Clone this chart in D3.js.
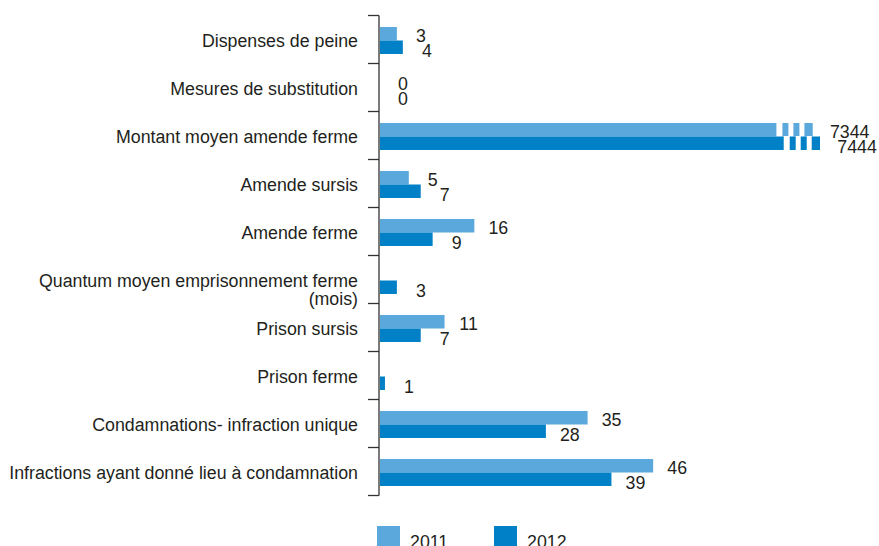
<!DOCTYPE html>
<html>
<head>
<meta charset="utf-8">
<script src="https://cdn.jsdelivr.net/npm/d3@7"></script>
<style>
  body { margin: 0; background: #fff; }
  svg text { font-family: "Liberation Sans", Arial, sans-serif; fill: #231f20; }
</style>
</head>
<body>
<svg id="chart" width="879" height="546"></svg>
<script>
// Categories, top to bottom
const categories = [
  "Dispenses de peine",
  "Mesures de substitution",
  "Montant moyen amende ferme",
  "Amende sursis",
  "Amende ferme",
  "Quantum moyen emprisonnement ferme\n(mois)",
  "Prison sursis",
  "Prison ferme",
  "Condamnations- infraction unique",
  "Infractions ayant donné lieu à condamnation"
];
const seriesNames = ["2011", "2012"];
const values2011 = [3, 0, 7344, 5, 16, null, 11, null, 35, 46];
const values2012 = [4, 0, 7444, 7, 9, 3, 7, 1, 28, 39];
const seriesColors = ["#5ba8dc", "#0080c6"];

const svg = d3.select("#chart");
const axisX = 379;

// Condensed look: horizontal squeeze so the longest category label spans 349px
const probe = svg.append("text").attr("font-size", 19)
  .text("Infractions ayant donné lieu à condamnation");
const squeeze = 349 / probe.node().getComputedTextLength();
probe.remove();

function place(sel, fx, fy) {
  sel.attr("transform", (d, i) => `translate(${fx(d, i)},${fy(d, i)}) scale(${squeeze},1)`);
}

// Broken value axis: the small counts share one linear segment,
// the large amounts are squeezed into a short segment beyond the break.
const breakValue = 60;
const x = d3.scaleLinear()
  .domain([0, breakValue, 7300, 7500])
  .range([axisX, axisX + 357.6, axisX + 430.5, axisX + 445.1]);

const y = d3.scaleBand()
  .domain(categories)
  .range([15.5, 495.5])
  .paddingInner(0)
  .paddingOuter(0);

const ySub = d3.scaleBand()
  .domain(seriesNames)
  .range([0, y.bandwidth()])
  .paddingInner(0)
  .paddingOuter(0.78);

const rows = categories.map((c, i) => ({
  category: c,
  values: [
    { series: "2011", value: values2011[i], color: seriesColors[0] },
    { series: "2012", value: values2012[i], color: seriesColors[1] }
  ]
}));

const groups = svg.append("g").selectAll("g.row")
  .data(rows)
  .join("g")
  .attr("class", "row")
  .attr("transform", d => `translate(0,${y(d.category) + 1})`);

const cells = groups.selectAll("g.cell")
  .data(d => d.values.filter(v => v.value !== null))
  .join("g")
  .attr("class", "cell");

// Bars
cells.append("rect")
  .attr("x", x(0) + 1)
  .attr("y", d => ySub(d.series))
  .attr("width", d => Math.max(0, x(d.value) - x(0) - 1))
  .attr("height", ySub.bandwidth())
  .attr("fill", d => d.color);

// Break marks on bars that run past the break
const gapOffsets = [[36.3, 6], [24.3, 5], [13.3, 5]];
cells.filter(d => d.value > breakValue)
  .selectAll("rect.gap")
  .data(d => gapOffsets.map(g => ({ end: x(d.value), off: g[0], w: g[1], series: d.series })))
  .join("rect")
  .attr("class", "gap")
  .attr("x", g => g.end - g.off)
  .attr("y", g => ySub(g.series) - 0.5)
  .attr("width", g => g.w)
  .attr("height", ySub.bandwidth() + 1)
  .attr("fill", "#fff");

// Value labels
cells.append("text")
  .attr("text-anchor", "middle")
  .attr("font-size", 19)
  .call(place,
    d => x(d.value) + (d.value > breakValue ? 37 : 24),
    d => ySub(d.series) + ySub.bandwidth() / 2 + (d.series === "2011" ? 8.5 : 10))
  .text(d => d3.format("d")(d.value));

// Category axis
const axis = svg.append("g");
axis.append("line")
  .attr("x1", axisX).attr("x2", axisX)
  .attr("y1", y.range()[0]).attr("y2", y.range()[1])
  .attr("stroke", "#333").attr("stroke-width", 1.3);

const boundaries = categories.map(c => y(c)).concat([y.range()[1]]);
axis.selectAll("line.tick")
  .data(boundaries)
  .join("line")
  .attr("class", "tick")
  .attr("x1", axisX - 11).attr("x2", axisX)
  .attr("y1", d => d).attr("y2", d => d)
  .attr("stroke", "#333").attr("stroke-width", 1.3);

axis.selectAll("text.cat")
  .data(categories)
  .join("text")
  .attr("class", "cat")
  .attr("text-anchor", "end")
  .attr("font-size", 19)
  .call(place, () => axisX - 21, d => y(d) + y.bandwidth() / 2 + 7.5)
  .selectAll("tspan")
  .data(d => d.split("\n"))
  .join("tspan")
  .attr("x", 0)
  .attr("dy", (d, i) => i === 0 ? 0 : 18.5)
  .text(d => d);

// Legend
const legend = svg.append("g")
  .selectAll("g")
  .data(seriesNames)
  .join("g")
  .attr("transform", (d, i) => `translate(${377 + i * 117},526)`);
legend.append("rect")
  .attr("width", 23).attr("height", 22)
  .attr("fill", (d, i) => seriesColors[i]);
legend.append("text")
  .attr("font-size", 19)
  .call(place, () => 33, () => 21.5)
  .text(d => d);
</script>
</body>
</html>
